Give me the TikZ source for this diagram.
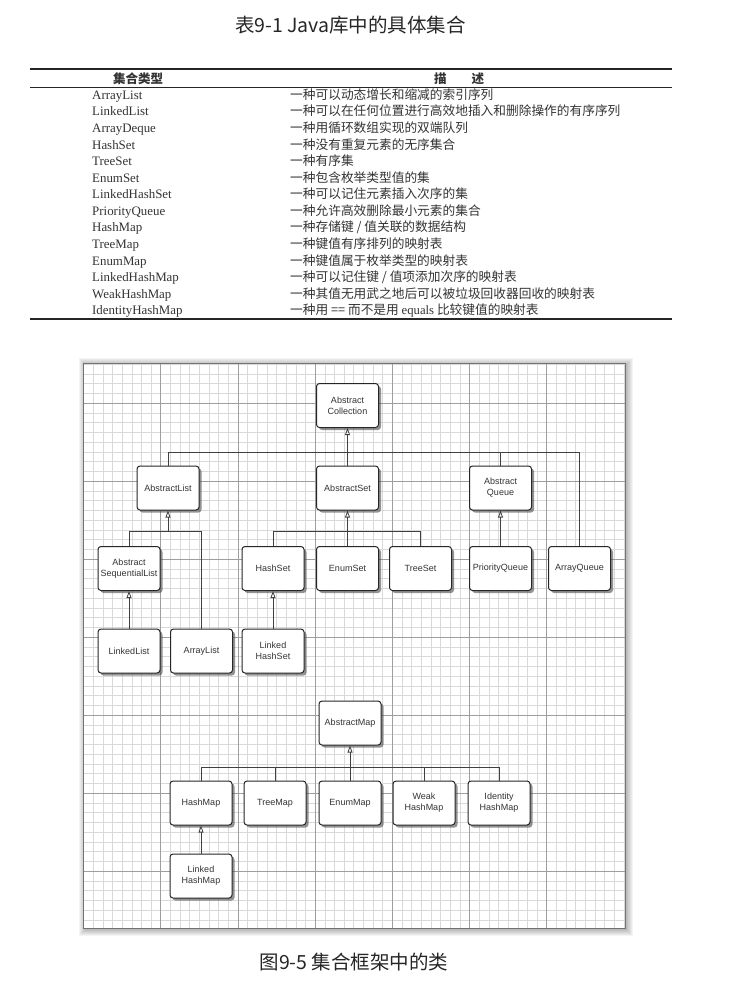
\documentclass[tikz,border=0pt]{standalone}
\usepackage{fontspec}
\setmainfont{Liberation Serif}
\newfontfamily\cjk{Noto Sans CJK SC}
\newfontfamily\boxfont{Liberation Sans}
\usetikzlibrary{arrows.meta,shadows}

\begin{document}
\begin{tikzpicture}
[x=1pt,y=-1pt,
  titledecorate/.style={inner sep=0pt,font=\cjk\fontsize{19.5}{22}\selectfont,text=black!85},%
  headdecorate/.style={inner sep=0pt,font=\cjk\bfseries\fontsize{12.5}{14}\selectfont,text=black!80},%
  celldecorate/.style={anchor=west,inner sep=0pt,text height=9pt,text depth=3pt,font=\fontsize{12.9}{14}\selectfont,text=black!80},%
  cjkdecorate/.style={celldecorate,font=\cjk\fontsize{12.7}{14}\selectfont},%
  rulethick/.style={line width=2.2pt,black!85},%
  rulethin/.style={line width=1pt,black!85},%
  minorline/.style={black!15,line width=0.5pt},%
  majorline/.style={black!38,line width=0.6pt},%
  nodedecorate/.style={shape=rectangle,rounded corners=3pt,draw=black!85,line width=1pt,fill=white,%
    minimum width=62pt,minimum height=44pt,align=center,inner sep=1pt,%
    font=\boxfont\fontsize{9}{11}\selectfont,text=black!80,%
    drop shadow={shadow xshift=2.5pt,shadow yshift=-2.5pt,fill=black!70,opacity=.6}},%
  linedecorate/.style={-,line width=0.8pt,black!75},%
  busdecorate/.style={linedecorate,to path={|- (\tikztotarget)}},%
  arrowdecorate/.style={linedecorate,-{Triangle[open,length=7pt,width=5pt]}}]
\useasboundingbox (0,0) rectangle (732,985);
%
%%% table 9-1
\node (title) at (350.5,25) [titledecorate] {表9-1 Java库中的具体集合};
\draw[rulethick] (30,69) -- (672,69);
\node (hkind) at (138,79) [headdecorate] {集合类型};
\node (hdesc) at (459,79) [headdecorate] {描　　述};
\draw[rulethin] (30,87) -- (672,87);
% class names
\node (k1) at (92,96) [celldecorate] {ArrayList};
\node (k2) at (92,112.5) [celldecorate] {LinkedList};
\node (k3) at (92,129) [celldecorate] {ArrayDeque};
\node (k4) at (92,146) [celldecorate] {HashSet};
\node (k5) at (92,162.5) [celldecorate] {TreeSet};
\node (k6) at (92,179) [celldecorate] {EnumSet};
\node (k7) at (92,195.5) [celldecorate] {LinkedHashSet};
\node (k8) at (92,212) [celldecorate] {PriorityQueue};
\node (k9) at (92,228.5) [celldecorate] {HashMap};
\node (k10) at (92,245) [celldecorate] {TreeMap};
\node (k11) at (92,262) [celldecorate] {EnumMap};
\node (k12) at (92,278.5) [celldecorate] {LinkedHashMap};
\node (k13) at (92,295) [celldecorate] {WeakHashMap};
\node (k14) at (92,311.5) [celldecorate] {IdentityHashMap};
% descriptions
\node (d1) at (290,96) [cjkdecorate] {一种可以动态增长和缩减的索引序列};
\node (d2) at (290,112.5) [cjkdecorate] {一种可以在任何位置进行高效地插入和删除操作的有序序列};
\node (d3) at (290,129) [cjkdecorate] {一种用循环数组实现的双端队列};
\node (d4) at (290,146) [cjkdecorate] {一种没有重复元素的无序集合};
\node (d5) at (290,162.5) [cjkdecorate] {一种有序集};
\node (d6) at (290,179) [cjkdecorate] {一种包含枚举类型值的集};
\node (d7) at (290,195.5) [cjkdecorate] {一种可以记住元素插入次序的集};
\node (d8) at (290,212) [cjkdecorate] {一种允许高效删除最小元素的集合};
\node (d9) at (290,228.5) [cjkdecorate] {一种存储键 / 值关联的数据结构};
\node (d10) at (290,245) [cjkdecorate] {一种键值有序排列的映射表};
\node (d11) at (290,262) [cjkdecorate] {一种键值属于枚举类型的映射表};
\node (d12) at (290,278.5) [cjkdecorate] {一种可以记住键 / 值项添加次序的映射表};
\node (d13) at (290,295) [cjkdecorate] {一种其值无用武之地后可以被垃圾回收器回收的映射表};
\node (d14) at (290,311.5) [cjkdecorate] {一种用 == 而不是用 {\rmfamily equals} 比较键值的映射表};
\draw[rulethick] (30,319) -- (672,319);
%
%%% grid paper
\foreach \s in {1,...,7}
  \fill[black,opacity=0.045] (83.5-\s+2,363-\s+2) rectangle (625+\s+1,928+\s+1);
\fill[white] (83.5,363) rectangle (625,928);
\begin{scope}
\clip (83.5,363) rectangle (625,928);
\foreach \i in {0,...,56}
  \draw[minorline] (83.5+9.65*\i,363) -- (83.5+9.65*\i,928);
\foreach \j in {0,...,58}
  \draw[minorline] (83,364+9.75*\j) -- (627,364+9.75*\j);
\foreach \i in {1,...,6}
  \draw[majorline] (83.5+77.2*\i,363) -- (83.5+77.2*\i,928);
\foreach \j in {0,...,6}
  \draw[majorline] (83,403+78*\j) -- (627,403+78*\j);
\end{scope}
\draw[black!55,line width=1pt] (83.5,363) rectangle (625,928);
%
%%% collection classes
% nodes or vertices
\node (coll) at (347.5,405.5) [nodedecorate] {Abstract\\Collection};
\node (alist) at (168,488) [nodedecorate] {AbstractList};
\node (aset) at (347.5,488) [nodedecorate] {AbstractSet};
\node (aqueue) at (500.5,488) [nodedecorate] {Abstract\\Queue};
\node (asl) at (129,568.5) [nodedecorate] {Abstract\\SequentialList};
\node (hashset) at (273,568.5) [nodedecorate] {HashSet};
\node (enumset) at (347.5,568.5) [nodedecorate] {EnumSet};
\node (treeset) at (420.5,568.5) [nodedecorate] {TreeSet};
\node (pqueue) at (500.5,568.5) [nodedecorate] {PriorityQueue};
\node (arrqueue) at (579.5,568.5) [nodedecorate] {ArrayQueue};
\node (llist) at (129,651) [nodedecorate] {LinkedList};
\node (arrlist) at (201.5,651) [nodedecorate] {ArrayList};
\node (lhashset) at (273,651) [nodedecorate] {Linked\\HashSet};
\coordinate (collbus) at (347.5,452);
\coordinate (listbus) at (168,531);
\coordinate (setbus) at (347.5,531);
% edges or lines
\path
(aset) edge[arrowdecorate] (coll)
(alist.north) edge[busdecorate] (collbus)
(aqueue.north) edge[busdecorate] (collbus)
(arrqueue.north) edge[busdecorate] (collbus)
(listbus) edge[arrowdecorate] (alist)
(asl.north) edge[busdecorate] (listbus)
(arrlist.north) edge[busdecorate] (listbus)
(enumset) edge[arrowdecorate] (aset)
(hashset.north) edge[busdecorate] (setbus)
(treeset.north) edge[busdecorate] (setbus)
(pqueue) edge[arrowdecorate] (aqueue)
(llist) edge[arrowdecorate] (asl)
(lhashset) edge[arrowdecorate] (hashset);
%
%%% map classes
% nodes or vertices
\node (amap) at (350,723) [nodedecorate] {AbstractMap};
\node (hashmap) at (201,803) [nodedecorate] {HashMap};
\node (treemap) at (275,803) [nodedecorate] {TreeMap};
\node (enummap) at (350,803) [nodedecorate] {EnumMap};
\node (weakmap) at (424,803) [nodedecorate] {Weak\\HashMap};
\node (idmap) at (499,803) [nodedecorate] {Identity\\HashMap};
\node (lhashmap) at (201,876) [nodedecorate] {Linked\\HashMap};
\coordinate (mapbus) at (350,767);
% edges or lines
\path
(enummap) edge[arrowdecorate] (amap)
(hashmap.north) edge[busdecorate] (mapbus)
(treemap.north) edge[busdecorate] (mapbus)
(weakmap.north) edge[busdecorate] (mapbus)
(idmap.north) edge[busdecorate] (mapbus)
(lhashmap) edge[arrowdecorate] (hashmap);
%
\node (caption) at (354,962) [titledecorate] {图9-5 集合框架中的类};
\end{tikzpicture}
\end{document}
